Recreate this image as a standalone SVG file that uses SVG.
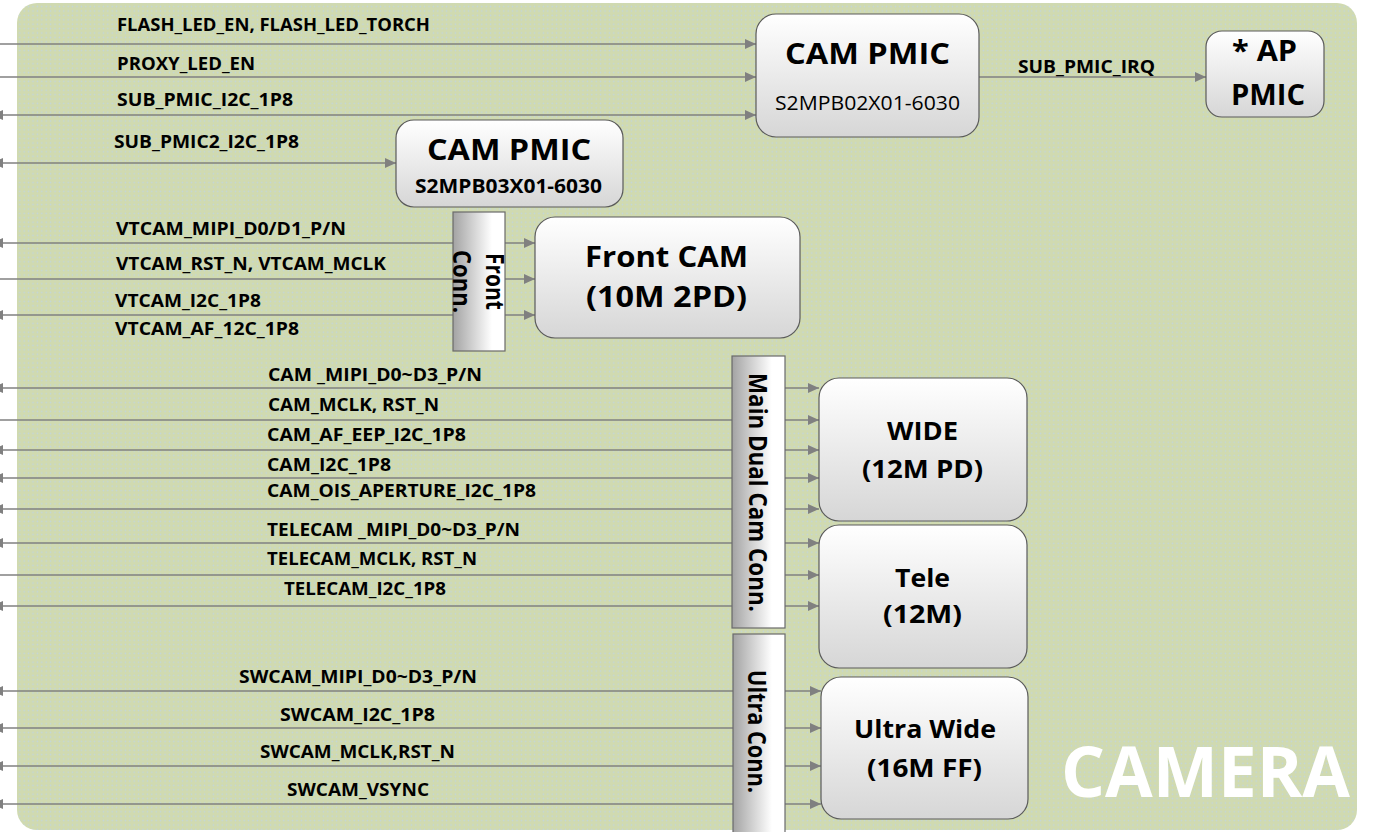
<svg xmlns="http://www.w3.org/2000/svg" width="1382" height="832" viewBox="0 0 1382 832">
<defs>
<style>
.lbl{font-family:"Open Sans","Liberation Sans",sans-serif;font-weight:bold;font-size:17px;fill:#000}
.big{font-family:"Open Sans","Liberation Sans",sans-serif;font-weight:bold;font-size:29px;fill:#000}
.mid{font-family:"Open Sans","Liberation Sans",sans-serif;font-weight:bold;font-size:25px;fill:#000}
.sub{font-family:"Open Sans","Liberation Sans",sans-serif;font-size:20px;fill:#000}
.subb{font-family:"Open Sans","Liberation Sans",sans-serif;font-weight:bold;font-size:19px;fill:#000}
.conn{font-family:"Open Sans","Liberation Sans",sans-serif;font-weight:bold;font-size:25px;fill:#000}
.box{fill:url(#gBox);stroke:#5a5a5a;stroke-width:1.2}
.cbox{fill:url(#gConn);stroke:#6a6a6a;stroke-width:1.2}
.ln{stroke:#808080;stroke-width:1.6;fill:none;marker-end:url(#ah)}
.bi{marker-start:url(#ahs)}
</style>
<linearGradient id="gBox" x1="0" y1="0" x2="0" y2="1">
<stop offset="0" stop-color="#ffffff"/><stop offset="1" stop-color="#d6d6d6"/>
</linearGradient>
<linearGradient id="gConn" x1="0" y1="0" x2="1" y2="0">
<stop offset="0" stop-color="#a3a3a3"/><stop offset="0.75" stop-color="#ffffff"/><stop offset="1" stop-color="#ffffff"/>
</linearGradient>
<pattern id="dots" width="4.4" height="4.4" patternUnits="userSpaceOnUse">
<rect width="4.4" height="4.4" fill="#d0dab0"/>
<circle cx="2.2" cy="2.2" r="0.8" fill="#c2d6dc"/>
</pattern>
<marker id="ah" markerUnits="userSpaceOnUse" markerWidth="12" markerHeight="12" refX="11" refY="6" orient="auto">
<path d="M0,1 L11,6 L0,11 Z" fill="#808080"/>
</marker>
<marker id="ahs" markerUnits="userSpaceOnUse" markerWidth="12" markerHeight="12" refX="0" refY="6" orient="auto">
<path d="M11,1 L0,6 L11,11 Z" fill="#808080"/>
</marker>
</defs>
<rect width="1382" height="832" fill="#ffffff"/>
<rect id="panel" x="17" y="3" width="1340" height="827" rx="20" ry="20" fill="url(#dots)"/>

<g id="connectors">
<path class="ln" d="M-8,44 H756"/>
<path class="ln" d="M-8,77 H756"/>
<path class="ln bi" d="M-8,115 H756"/>
<path class="ln bi" d="M-8,163 H396"/>
<path class="ln" d="M979,77 H1206"/>
<path class="ln bi" d="M-8,243 H535"/>
<path class="ln" d="M-8,279 H535"/>
<path class="ln bi" d="M-8,315 H535"/>
<path class="ln bi" d="M-8,388 H819"/>
<path class="ln" d="M-8,420 H819"/>
<path class="ln bi" d="M-8,450 H819"/>
<path class="ln bi" d="M-8,478 H819"/>
<path class="ln bi" d="M-8,509 H819"/>
<path class="ln bi" d="M-8,543 H819"/>
<path class="ln" d="M-8,575 H819"/>
<path class="ln bi" d="M-8,606 H819"/>
<path class="ln bi" d="M-8,691 H821"/>
<path class="ln bi" d="M-8,728 H821"/>
<path class="ln bi" d="M-8,766 H821"/>
<path class="ln bi" d="M-8,804 H821"/>
</g>

<g id="labels">
<text class="lbl" x="117" y="31" textLength="313" lengthAdjust="spacingAndGlyphs">FLASH_LED_EN, FLASH_LED_TORCH</text>
<text class="lbl" x="117" y="70" textLength="138" lengthAdjust="spacingAndGlyphs">PROXY_LED_EN</text>
<text class="lbl" x="117" y="106" textLength="176" lengthAdjust="spacingAndGlyphs">SUB_PMIC_I2C_1P8</text>
<text class="lbl" x="114" y="148" textLength="185" lengthAdjust="spacingAndGlyphs">SUB_PMIC2_I2C_1P8</text>
<text class="lbl" x="1018" y="73" textLength="137" lengthAdjust="spacingAndGlyphs">SUB_PMIC_IRQ</text>
<text class="lbl" x="116" y="235" textLength="230" lengthAdjust="spacingAndGlyphs">VTCAM_MIPI_D0/D1_P/N</text>
<text class="lbl" x="116" y="270" textLength="270" lengthAdjust="spacingAndGlyphs">VTCAM_RST_N, VTCAM_MCLK</text>
<text class="lbl" x="115" y="307" textLength="146" lengthAdjust="spacingAndGlyphs">VTCAM_I2C_1P8</text>
<text class="lbl" x="115" y="335" textLength="184" lengthAdjust="spacingAndGlyphs">VTCAM_AF_12C_1P8</text>
<text class="lbl" x="268" y="381" textLength="214" lengthAdjust="spacingAndGlyphs">CAM _MIPI_D0~D3_P/N</text>
<text class="lbl" x="268" y="411" textLength="171" lengthAdjust="spacingAndGlyphs">CAM_MCLK, RST_N</text>
<text class="lbl" x="267" y="441" textLength="199" lengthAdjust="spacingAndGlyphs">CAM_AF_EEP_I2C_1P8</text>
<text class="lbl" x="267" y="471" textLength="124" lengthAdjust="spacingAndGlyphs">CAM_I2C_1P8</text>
<text class="lbl" x="267" y="497" textLength="269" lengthAdjust="spacingAndGlyphs">CAM_OIS_APERTURE_I2C_1P8</text>
<text class="lbl" x="267" y="536" textLength="253" lengthAdjust="spacingAndGlyphs">TELECAM _MIPI_D0~D3_P/N</text>
<text class="lbl" x="267" y="565" textLength="210" lengthAdjust="spacingAndGlyphs">TELECAM_MCLK, RST_N</text>
<text class="lbl" x="284" y="595" textLength="162" lengthAdjust="spacingAndGlyphs">TELECAM_I2C_1P8</text>
<text class="lbl" x="239" y="683" textLength="238" lengthAdjust="spacingAndGlyphs">SWCAM_MIPI_D0~D3_P/N</text>
<text class="lbl" x="280" y="721" textLength="155" lengthAdjust="spacingAndGlyphs">SWCAM_I2C_1P8</text>
<text class="lbl" x="260" y="758" textLength="195" lengthAdjust="spacingAndGlyphs">SWCAM_MCLK,RST_N</text>
<text class="lbl" x="287" y="796" textLength="142" lengthAdjust="spacingAndGlyphs">SWCAM_VSYNC</text>
</g>

<g id="cam-pmic-1">
<rect class="box" x="756" y="14" width="223" height="123" rx="20"/>
<text class="big" x="785" y="64" textLength="165" lengthAdjust="spacingAndGlyphs">CAM PMIC</text>
<text class="sub" x="775" y="110" textLength="185" lengthAdjust="spacingAndGlyphs">S2MPB02X01-6030</text>
</g>

<g id="ap-pmic">
<rect class="box" x="1206" y="31" width="118" height="86" rx="16"/>
<text class="big" x="1232" y="61" textLength="65" lengthAdjust="spacingAndGlyphs">* AP</text>
<text class="big" x="1231" y="105" textLength="74" lengthAdjust="spacingAndGlyphs">PMIC</text>
</g>

<g id="cam-pmic-2">
<rect class="box" x="396" y="120" width="227" height="87" rx="18"/>
<text class="big" x="427" y="160" textLength="164" lengthAdjust="spacingAndGlyphs">CAM PMIC</text>
<text class="subb" x="415" y="193" textLength="187" lengthAdjust="spacingAndGlyphs">S2MPB03X01-6030</text>
</g>

<g id="front-conn">
<rect class="cbox" x="453" y="212" width="52" height="139"/>
<g transform="rotate(90)">
<text class="conn" x="281.5" y="-486" text-anchor="middle" textLength="57" lengthAdjust="spacingAndGlyphs">Front</text>
<text class="conn" x="281.5" y="-453" text-anchor="middle" textLength="63" lengthAdjust="spacingAndGlyphs">Conn.</text>
</g>
</g>

<g id="front-cam">
<rect class="box" x="535" y="217" width="265" height="121" rx="20"/>
<text class="big" x="585" y="267" textLength="163" lengthAdjust="spacingAndGlyphs">Front CAM</text>
<text class="big" x="586" y="307" textLength="161" lengthAdjust="spacingAndGlyphs">(10M 2PD)</text>
</g>

<g id="main-dual-conn">
<rect class="cbox" x="732" y="356" width="53" height="272"/>
<g transform="rotate(90)">
<text class="conn" x="492.5" y="-749" text-anchor="middle" textLength="239" lengthAdjust="spacingAndGlyphs">Main Dual Cam Conn.</text>
</g>
</g>

<g id="wide">
<rect class="box" x="819" y="378" width="208" height="143" rx="20"/>
<text class="mid" x="887" y="440" textLength="71" lengthAdjust="spacingAndGlyphs">WIDE</text>
<text class="mid" x="862" y="478" textLength="121" lengthAdjust="spacingAndGlyphs">(12M PD)</text>
</g>

<g id="tele">
<rect class="box" x="819" y="525" width="208" height="143" rx="20"/>
<text class="mid" x="895" y="587" textLength="55" lengthAdjust="spacingAndGlyphs">Tele</text>
<text class="mid" x="883" y="623" textLength="79" lengthAdjust="spacingAndGlyphs">(12M)</text>
</g>

<g id="ultra-conn">
<rect class="cbox" x="733" y="634" width="52" height="200"/>
<g transform="rotate(90)">
<text class="conn" x="731.5" y="-748" text-anchor="middle" textLength="123" lengthAdjust="spacingAndGlyphs">Ultra Conn.</text>
</g>
</g>

<g id="ultra-wide">
<rect class="box" x="821" y="677" width="207" height="142" rx="20"/>
<text class="mid" x="854" y="738" textLength="142" lengthAdjust="spacingAndGlyphs">Ultra Wide</text>
<text class="mid" x="867" y="777" textLength="115" lengthAdjust="spacingAndGlyphs">(16M FF)</text>
</g>

<g id="title">
<text x="1061" y="797" textLength="289" lengthAdjust="spacingAndGlyphs" style="font-family:'Open Sans','Liberation Sans',sans-serif;font-weight:bold;font-size:70px;fill:#ffffff">CAMERA</text>
</g>
</svg>
